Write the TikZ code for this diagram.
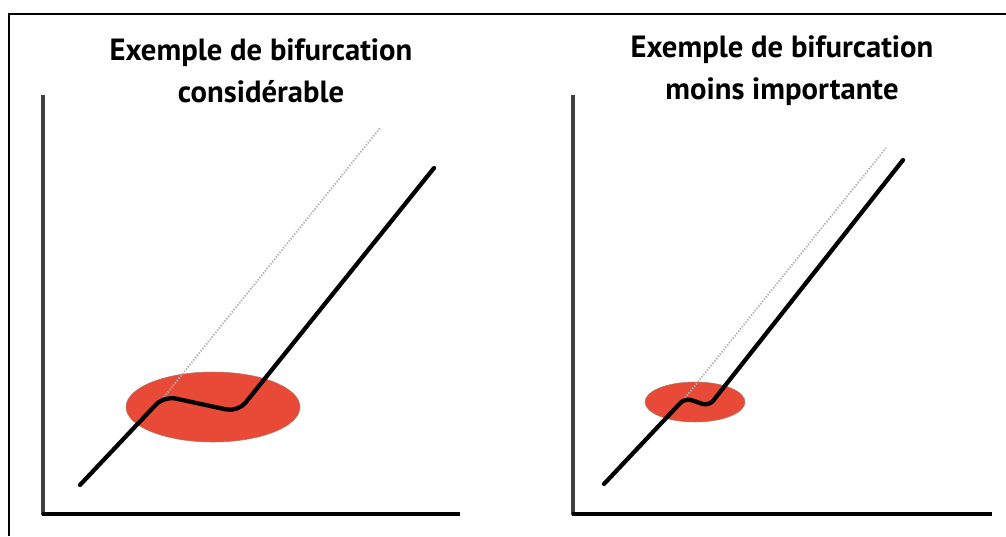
\documentclass[tikz,border=0pt]{standalone}
\usepackage{fontspec}
\setmainfont{PT Sans}
\definecolor{blobred}{RGB}{232,74,55}
\definecolor{blobedge}{RGB}{170,120,100}
\begin{document}
\begin{tikzpicture}[x=0.75pt,y=-0.75pt,
  frame/.style={line width=2pt,black},
  vaxis/.style={line width=2.4pt,black!75},
  haxis/.style={line width=3.4pt,black},
  path/.style={line width=3.2pt,black,line cap=round},
  ghost/.style={line width=1.4pt,black!30,dash pattern=on 1pt off 1.2pt},
  blob/.style={fill=blobred,draw=blobedge,line width=0.4pt},
  title/.style={font=\bfseries\fontsize{23}{31.5}\selectfont,align=center,inner sep=0pt}]
\useasboundingbox (0,0) rectangle (1006,536);
\fill[white] (0,0) rectangle (1006,536);
% frame
\draw[frame] (9,536) -- (9,14) -- (1006,14);
% left panel
\node[title] (t1) at (261,71) {Exemple de bifurcation\\considérable};
\draw[vaxis] (43,95) -- (43,515);
\draw[haxis] (42,514) -- (460,514);
\fill[blob] (213,407) ellipse [x radius=87,y radius=35];
\draw[ghost] (164,397) -- (380,128);
\draw[path,rounded corners=9pt] (80,485) -- (164,396) -- (238,412) -- (434,168);
% right panel
\node[title] (t2) at (782,71) {Exemple de bifurcation\\moins importante};
\draw[vaxis] (573,95) -- (573,515);
\draw[haxis] (572,514) -- (992,514);
\fill[blob] (695,402) ellipse [x radius=50,y radius=20];
\draw[ghost] (685,398) -- (886,148);
\draw[path,rounded corners=5pt] (604,484) -- (685,398) -- (709,406) -- (903,160);
\end{tikzpicture}
\end{document}
